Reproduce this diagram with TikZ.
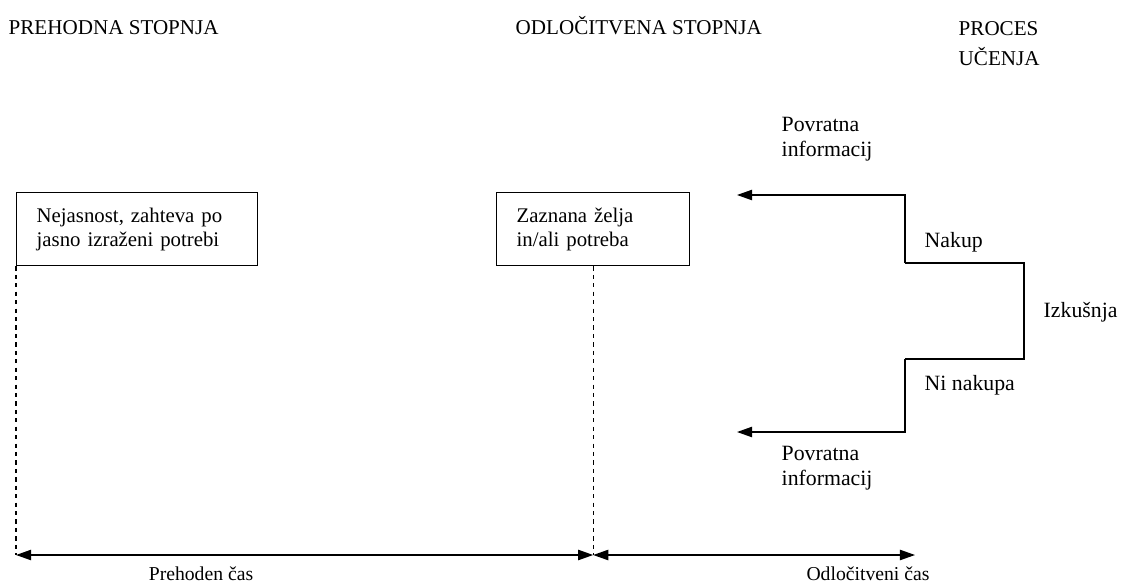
\documentclass[tikz,border=0pt]{standalone}
\usepackage{fontspec}
\setmainfont{Liberation Serif}
\usetikzlibrary{arrows.meta}

\begin{document}
\begin{tikzpicture}[
		font=\fontsize{15.5}{17.7}\selectfont,
		line width=1pt,
		box/.style={draw,anchor=north west,align=left,inner xsep=0.5cm,minimum height=1.825cm,font=\fontsize{14.8}{17}\selectfont},
		label/.style={anchor=west,inner sep=0pt,align=left},
		title/.style={anchor=base west,inner sep=0pt,align=left,font=\fontsize{15}{21.3}\selectfont},
		tip/.style={-{Triangle[length=0.38cm,width=0.26cm]}},
		span/.style={{Triangle[length=0.38cm,width=0.26cm]}-{Triangle[length=0.38cm,width=0.26cm]}},
		guide/.style={dashed,line width=0.8pt,dash pattern=on 3pt off 3pt}]
		\useasboundingbox (0,0) rectangle (28.175,14.65);
		
		% Titles
		\node[title] (prehodna) at (0.2,13.775) {PREHODNA STOPNJA};
		\node[title] (odlocitvena) at (12.875,13.775) {ODLOČITVENA STOPNJA};
		\node[title] (proces) at (23.95,13.025) {PROCES\\UČENJA};
		
		% Boxes
		\node[box,text width=5.025cm] (nejasnost) at (0.4,9.85) {Nejasnost, zahteva po\\jasno izraženi potrebi};
		\node[box,text width=3.825cm] (zaznana) at (12.4,9.85) {Zaznana želja\\in/ali potreba};
		
		% Time axis
		\coordinate (t0) at (0.4,0.775);
		\coordinate (t1) at (zaznana.south |- t0);
		\coordinate (t2) at (22.875,0.775);
		\draw[guide] (nejasnost.south west) -- (t0);
		\draw[guide] (zaznana.south) -- (t1);
		\draw[span] (t0) -- (t1);
		\draw[span] (t1) -- (t2);
		
		% Feedback loop
		\coordinate (fb1) at (18.425,9.775);
		\coordinate (k1) at (22.625,9.775);
		\coordinate (k2) at (22.625,8.075);
		\coordinate (k3) at (25.6,8.075);
		\coordinate (k4) at (25.6,5.675);
		\coordinate (k5) at (22.625,5.675);
		\coordinate (k6) at (22.625,3.85);
		\coordinate (fb2) at (18.425,3.85);
		\draw[tip] (k2) -- (k1) -- (fb1);
		\draw (k2) -- (k3) -- (k4) -- (k5);
		\draw[tip] (k5) -- (k6) -- (fb2);
		
		% Nodes
		\node[label] (povratna1) at (19.525,11.1625) {Povratna\\informacij};
		\node[label] (povratna2) at (19.525,2.95) {Povratna\\informacij};
		\node[label] (nakup) at (23.1,8.6) {Nakup};
		\node[label] (izkusnja) at (26.075,6.85) {Izkušnja};
		\node[label] (ninakupa) at (23.1,5.025) {Ni nakupa};
		\node[anchor=base,inner sep=0pt,font=\fontsize{14}{17}\selectfont] (prehoden) at (5.025,0.15) {Prehoden čas};
		\node[anchor=base,inner sep=0pt,font=\fontsize{14}{17}\selectfont] (odlocitveni) at (21.7,0.15) {Odločitveni čas};
		\end{tikzpicture}
\end{document}
